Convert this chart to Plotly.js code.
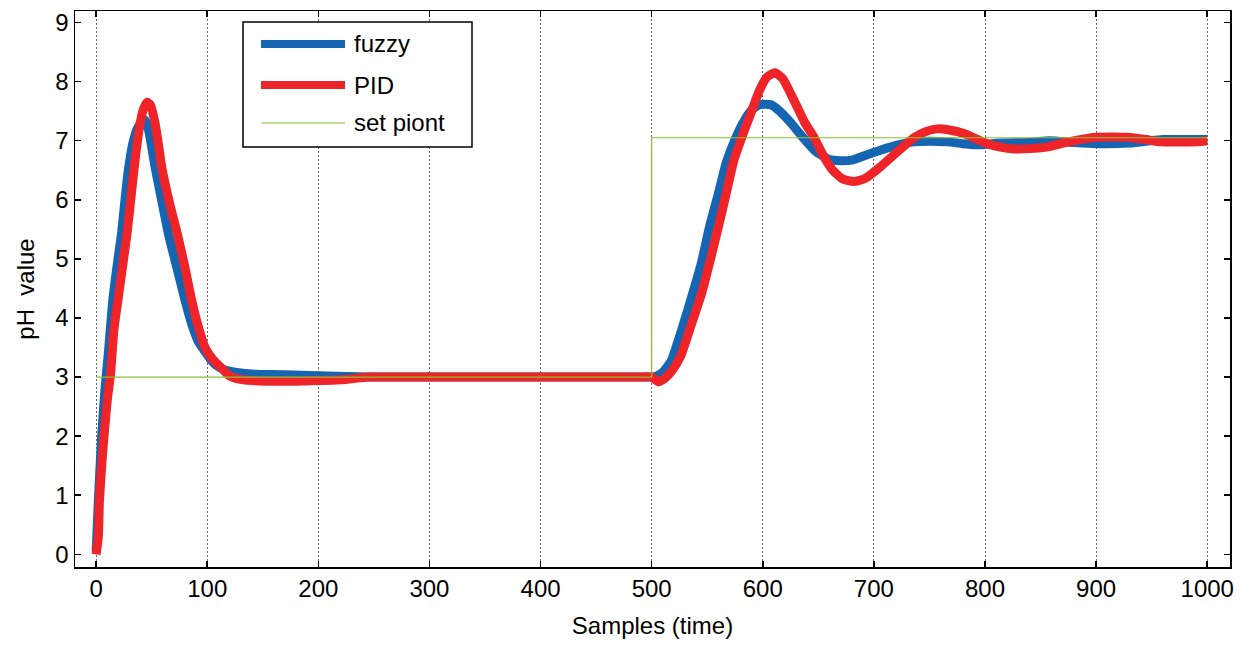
<!DOCTYPE html>
<html>
<head>
<meta charset="utf-8">
<script src="https://cdn.plot.ly/plotly-3.0.1.min.js"></script>
<style>html,body{margin:0;padding:0;background:#fff;}#chart{width:1243px;height:648px;}</style>
</head>
<body>
<div id="chart"></div>
<script>
// ---- data ----
const seriesNames = ["fuzzy", "PID", "set piont"];

const fuzzyX = [0,2,5,8,11,15,19,23,26,29,33,37,41,44,47,50,53,57,61,65,70,75,80,86,92,97,103,108,116,125,140,170,200,250,300,350,400,450,490,500,
  505,511,518,527,537,545,552,560,567,575,583,590,597,607,614,624,635,647,660,670,680,692,706,720,736,750,766,780,796,814,840,858,880,900,930,960,980,1000];
const fuzzyY = [0.05,0.9,2.0,2.8,3.4,4.3,4.9,5.45,6.0,6.5,6.95,7.2,7.32,7.35,7.2,6.9,6.56,6.18,5.8,5.43,5.05,4.68,4.3,3.9,3.6,3.46,3.3,3.2,3.12,3.08,3.05,3.04,3.02,3.0,3.0,3.0,3.0,3.0,3.0,3.0,
  3.02,3.1,3.29,3.8,4.42,4.95,5.54,6.1,6.62,7.02,7.33,7.52,7.61,7.61,7.52,7.33,7.08,6.83,6.68,6.66,6.67,6.75,6.84,6.92,6.98,6.99,6.98,6.95,6.93,6.96,6.97,7.0,6.97,6.95,6.96,7.02,7.02,7.02];

const pidX = [0,2,3,6,10,13,16,20,24,28,34,38,42,46,49,53,56,59,66,73,80,86,92,98,105,113,120,130,140,180,200,225,245,280,350,400,450,490,500,
  506,512,518,526,535,545,553,560,567,574,582,590,597,604,611,618,625,631,638,646,655,663,672,682,692,706,721,736,746,757,768,781,792,802,814,826,844,858,868,889,900,928,945,958,990,1000];
const pidY = [0.0,0.3,0.9,1.75,2.6,3.05,3.8,4.35,4.9,5.45,6.5,7.1,7.5,7.65,7.6,7.3,6.95,6.56,5.95,5.43,4.85,4.3,3.85,3.5,3.3,3.15,3.02,2.96,2.94,2.93,2.94,2.96,3.0,3.0,3.0,3.0,3.0,3.0,3.0,
  2.92,2.98,3.1,3.35,3.85,4.42,5.0,5.54,6.1,6.67,7.1,7.5,7.85,8.08,8.15,8.05,7.8,7.57,7.3,7.06,6.73,6.5,6.35,6.31,6.36,6.56,6.81,7.05,7.15,7.2,7.18,7.12,7.03,6.95,6.89,6.86,6.87,6.9,6.95,7.03,7.06,7.06,7.02,6.98,6.98,7.0];

const setX = [0, 500, 500, 1000];
const setY = [3, 3, 7.05, 7.05];

const xTicks = [0,100,200,300,400,500,600,700,800,900,1000];
const yTicks = [0,1,2,3,4,5,6,7,8,9];

// ---- styles ----
const BLUE = "#1665b3", RED = "#ee2429", GREEN = "#86c233";
const FONT = "Arial, 'Liberation Sans', sans-serif";

const traces = [
  {x: fuzzyX, y: fuzzyY, name: seriesNames[0], type: "scatter", mode: "lines",
   line: {color: BLUE, width: 9, shape: "spline", smoothing: 0.5}},
  {x: pidX, y: pidY, name: seriesNames[1], type: "scatter", mode: "lines",
   line: {color: RED, width: 9, shape: "spline", smoothing: 0.5}},
  {x: setX, y: setY, name: seriesNames[2], type: "scatter", mode: "lines",
   line: {color: GREEN, width: 1.2}}
];

// legend drawn manually (paper coords computed from pixel positions)
const L = 75, R = 1230, T = 11, B = 567;
const px = v => (v - L) / (R - L);
const py = v => 1 - (v - T) / (B - T);
const legColors = [BLUE, RED, GREEN], legWidths = [8, 8, 1.2], legY = [44, 85, 123];

const shapes = [
  {type: "rect", xref: "paper", yref: "paper", x0: px(243), x1: px(472), y0: py(147), y1: py(22),
   line: {color: "#000", width: 1.5}, fillcolor: "#fff", layer: "above"}
];
const annotations = [];
for (let i = 0; i < 3; i++) {
  shapes.push({type: "line", xref: "paper", yref: "paper", x0: px(261), x1: px(345), y0: py(legY[i]), y1: py(legY[i]),
    line: {color: legColors[i], width: legWidths[i]}, layer: "above"});
  annotations.push({xref: "paper", yref: "paper", x: px(352), y: py(legY[i]), xanchor: "left", yanchor: "middle",
    text: seriesNames[i], showarrow: false, font: {family: FONT, size: 24, color: "#000"}});
}

const layout = {
  width: 1243, height: 648,
  margin: {l: L, r: 1243 - R, t: T, b: 648 - B, pad: 0},
  paper_bgcolor: "#fff", plot_bgcolor: "#fff",
  showlegend: false,
  font: {family: FONT, size: 24, color: "#000"},
  xaxis: {
    range: [-19, 1020.5], tickvals: xTicks, ticktext: xTicks.map(String),
    ticks: "inside", ticklen: 6, tickwidth: 1.5, tickcolor: "#000",
    showline: true, linecolor: "#000", linewidth: 1.5, mirror: "allticks",
    showgrid: true, gridcolor: "#666", gridwidth: 1, griddash: "2px,2px",
    zeroline: false, tickfont: {family: FONT, size: 24, color: "#000"},
    title: {text: "Samples (time)", font: {family: FONT, size: 24, color: "#000"}, standoff: 16}
  },
  yaxis: {
    range: [-0.215, 9.195], tickvals: yTicks, ticktext: yTicks.map(String),
    ticks: "inside", ticklen: 6, tickwidth: 1.5, tickcolor: "#000",
    showline: true, linecolor: "#000", linewidth: 1.5, mirror: "allticks",
    showgrid: false, zeroline: false,
    tickfont: {family: FONT, size: 24, color: "#000"},
    title: {text: "pH\u00a0\u00a0value", font: {family: FONT, size: 24, color: "#000"}, standoff: 14}
  },
  shapes: shapes,
  annotations: annotations
};

Plotly.newPlot("chart", traces, layout, {displayModeBar: false, staticPlot: true});
</script>
</body>
</html>
